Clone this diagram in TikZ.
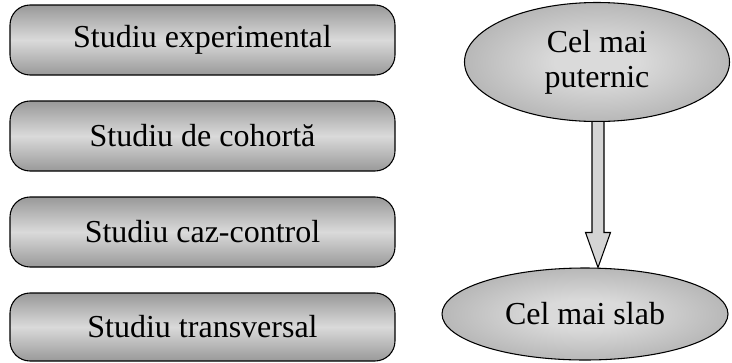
\documentclass[tikz,border=0pt]{standalone}
\usepackage{fontspec}
\setmainfont{Liberation Serif}
\usetikzlibrary{shapes.geometric,calc}
\definecolor{edgegray}{HTML}{999999}
\definecolor{midgray}{HTML}{DADADA}
\definecolor{ellgray}{HTML}{858585}
\definecolor{arrowgray}{HTML}{D4D4D4}
\pgfdeclareradialshading{ellshade}{\pgfpoint{0bp}{0bp}}{color(0bp)=(midgray); color(8bp)=(midgray); color(50bp)=(ellgray)}
\begin{document}
\begin{tikzpicture}[x=0.75pt,y=-0.75pt,
  studybox/.style={draw=black, line width=0.8pt, rounded corners=15pt,
    minimum width=288.75pt, minimum height=52.5pt, inner sep=0pt,
    top color=edgegray, bottom color=edgegray, middle color=midgray,
    font=\fontsize{24}{26}\selectfont},
  levelell/.style={ellipse, draw=black, line width=0.8pt, inner sep=0pt,
    shading=ellshade, align=center, font=\fontsize{24}{26}\selectfont},
  bigarrow/.style={draw=black, line width=0.8pt, fill=arrowgray}]
\useasboundingbox (0,0) rectangle (732,362);

\node[studybox] (b1) at (202.5,40) {Studiu experimental};
\node[studybox] (b2) at (202.5,136) {Studiu de cohortă};
\node[studybox] (b3) at (202.5,232) {Studiu caz-control};
\node[studybox, minimum height=51pt] (b4) at (202.5,327) {Studiu transversal};

\node[levelell, minimum width=198.75pt, minimum height=89.25pt] (e1) at (597,62) {Cel mai\\puternic};
\node[levelell, minimum width=214.5pt, minimum height=69pt] (e2) at (585,314) {Cel mai slab};

\path ($(e1.south)+(1,0)$) coordinate (s) ($(e1.south |- e2.north)+(13,0)$) coordinate (t);
\path (s |- t) coordinate (t);
\draw[bigarrow] ($(s)+(-6,0)$) -- ($(t)+(-6,-35)$) -- ($(t)+(-12.5,-35)$) -- (t)
  -- ($(t)+(12.5,-35)$) -- ($(t)+(6,-35)$) -- ($(s)+(6,0)$);
\end{tikzpicture}
\end{document}
